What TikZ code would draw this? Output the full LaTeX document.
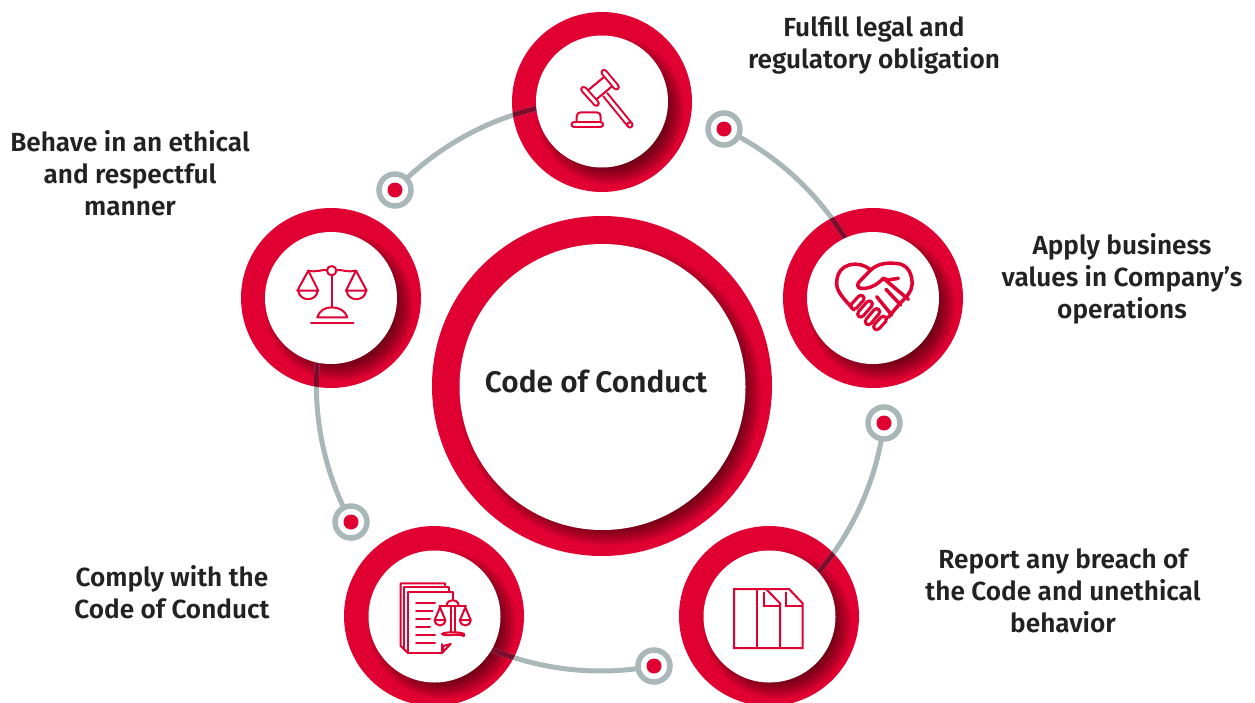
\documentclass[tikz,border=0pt]{standalone}
\usepackage{fontspec}
\setmainfont{Fira Sans}[BoldFont={Fira Sans SemiBold}]
\usetikzlibrary{positioning}
\definecolor{brand}{HTML}{E00032}
\definecolor{brandshade}{HTML}{7E0A2C}
\definecolor{linkgrey}{HTML}{A9B7B8}
\definecolor{inktext}{HTML}{222222}
\pgfdeclarelayer{rings}
\pgfdeclarelayer{links}
\pgfsetlayers{rings,links,main}
\tikzset {
  % red disc behind each white hub
  ring/.style = {circle, fill=brand, inner sep=0pt, outer sep=0pt, minimum size=180pt},
  hub/.style = {circle, fill=white, inner sep=0pt, outer sep=0pt, minimum size=132pt},
  % small targets on the big circle
  pinnode/.style = {circle, draw=linkgrey, line width=5.5pt, fill=white, inner sep=0pt,
    minimum size=32pt, path picture={\fill[brand] (path picture bounding box.center) circle (7.5pt);}},
  link/.style = {draw=linkgrey, line width=5pt},
  linkdark/.style = {draw=brandshade, line width=5pt},
  caption/.style = {align=center, text=inktext, font=\fontsize{26.2}{32}\selectfont\bfseries},
  icon/.style = {draw=brand, line width=2pt, line join=round, line cap=round},
  capsule/.style = {icon, double=white, double distance=3pt},
}
% soft shadow on the ring, lower right of the hub
\newcommand{\ringshade}[4]{%
  \begin{scope}
    \clip (#1,#2) circle (#3);
    \foreach \s in {-11,-10.25,...,9}
      \fill[black, opacity=.024] (#1+8,#2+8) circle (#4+\s);
  \end{scope}}
\begin{document}
\begin{tikzpicture}[x=1pt, y=-1pt]
  \useasboundingbox (0,0) rectangle (1255,702);

  \begin{pgfonlayer}{rings}
    \clip (0,0) rectangle (1255,702);
    \node[ring, minimum size=340pt] (conductring) at (602,386) {};
    \ringshade{602}{386}{170}{143}
    \foreach \n/\x/\y in {law/602/102, trust/873/298, report/769/616, comply/434/616, ethics/331/298} {
      \node[ring] (\n ring) at (\x,\y) {};
      \ringshade{\x}{\y}{90}{66}
    }
  \end{pgfonlayer}

  \node[hub, minimum size=286pt] (conduct) at (602.5,387) {};
  \node[hub] (law) at (602,101.5) {};
  \node[hub] (trust) at (873,298) {};
  \node[hub] (report) at (769.5,616.5) {};
  \node[hub] (comply) at (434.5,616.5) {};
  \node[hub] (ethics) at (331,298) {};

  \node[pinnode] (lawpin) at (724,129) {};
  \node[pinnode] (trustpin) at (884,423) {};
  \node[pinnode] (reportpin) at (654,666) {};
  \node[pinnode] (complypin) at (351,522) {};
  \node[pinnode] (ethicspin) at (395,190) {};

  \begin{pgfonlayer}{links}
    \foreach \p/\h/\a in {lawpin/trust/115, trustpin/report/42, reportpin/comply/-30, complypin/ethics/-102, ethicspin/law/186} {
      \draw[link] (\p.center) to[bend left=16.5, looseness=.87] (\h.\a);
      \begin{scope}
        \clip (\h ring.center) circle (90);
        \draw[linkdark] (\p.center) to[bend left=16.5, looseness=.87] (\h.\a);
      \end{scope}
    }
  \end{pgfonlayer}

  \node[caption, font=\fontsize{29.8}{34}\selectfont\bfseries] (conducttext) at (596,381) {Code of Conduct};
  \node[caption] (lawtext) at (874,45) {Fulfill legal and\\regulatory obligation};
  \node[caption] (trusttext) at (1122,279) {Apply business\\values in Company’s\\operations};
  \node[caption] (reporttext) at (1063,591) {Report any breach of\\the Code and unethical\\behavior};
  \node[caption] (complytext) at (172,592) {Comply with the\\Code of Conduct};
  \node[caption] (ethicstext) at (130,173) {Behave in an ethical\\and respectful\\manner};

  % gavel
  \begin{scope}[shift={(510,0)}, scale=1/3]
    \draw[capsule, line cap=butt] (285,283) -- (360,375);
    \draw[capsule] (360,375) -- (359,374);
    \draw[icon, fill=white] (228,276) -- (288,226) -- (312,254) -- (252,304) -- cycle;
    \draw[capsule] (221,268) -- (259,310);
    \draw[capsule] (282,217) -- (319,261);
    \draw[icon] (200,365) -- (200,350) .. controls (200,342) and (205,337) .. (212,337) -- (260,337)
      .. controls (268,337) and (272,342) .. (272,350) -- (272,365);
    \draw[capsule] (192,374) -- (272,374);
  \end{scope}

  % heart with shaking hands
  \begin{scope}[shift={(780,200)}, scale=1/3, icon/.append style={line width=3.5pt}, capsule/.append style={line width=3.2pt, double distance=3pt}]
    \draw[icon] (272,210) .. controls (240,180) and (170,185) .. (170,250) .. controls (170,275) and (190,295) .. (222,330);
    \draw[icon] (272,210) .. controls (295,190) and (320,188) .. (345,190) .. controls (385,190) and (398,225) .. (396,255)
      .. controls (395,275) and (380,290) .. (360,310) -- (325,352);
    \draw[icon] (272,210) -- (238,245) .. controls (225,262) and (240,268) .. (255,265)
      .. controls (280,262) and (295,250) .. (310,235) -- (325,240) -- (355,235);
    \draw[icon] (310,235) -- (385,298);
    \draw[icon] (318,268) -- (362,315);
    \draw[icon] (290,290) -- (335,345);
    \draw[capsule] (222,318) -- (243,295);
    \draw[capsule] (242,342) -- (268,312);
    \draw[capsule] (265,365) -- (290,335);
    \draw[capsule] (290,380) -- (310,358);
  \end{scope}

  % scales
  \begin{scope}[shift={(240,200)}, scale=1/3]
    \draw[icon] (275,212) circle (14);
    \draw[icon] (261,210) .. controls (245,208) and (230,218) .. (205,212);
    \draw[icon] (289,210) .. controls (305,208) and (320,218) .. (348,212);
    \draw[icon] (172,272) -- (205,212) -- (235,272) -- cycle;
    \draw[icon] (175,272) .. controls (178,306) and (230,306) .. (233,272);
    \draw[icon] (318,272) -- (348,212) -- (380,272) -- cycle;
    \draw[icon] (320,272) .. controls (323,306) and (375,306) .. (378,272);
    \draw[icon] (275,226) -- (275,322);
    \draw[icon] (232,352) .. controls (238,332) and (255,322) .. (275,322) .. controls (297,322) and (316,332) .. (322,352) -- cycle;
    \draw[icon] (213,370) -- (340,370);
  \end{scope}

  % papers with small scales
  \begin{scope}[shift={(340,520)}, scale=1/3]
    \draw[icon] (205,400) -- (182,378) -- (182,190) -- (315,190) -- (315,200);
    \draw[icon] (193,385) -- (193,200) -- (327,200) -- (327,215);
    \draw[icon] (305,372) -- (305,400) -- (205,400) -- (205,215) -- (338,215) -- (338,238);
    \draw[icon] (305,400) -- (332,372) -- (310,378) -- (307,398);
    \foreach \yy/\xx in {248/285, 272/278, 297/270, 321/270, 346/285, 370/285}
      \draw[icon] (228,\yy) -- (\xx,\yy);
    \draw[icon] (320,256) .. controls (322,235) and (354,235) .. (356,256);
    \draw[icon] (298,258) -- (378,258);
    \draw[icon] (332,258) -- (332,335);
    \draw[icon] (345,258) -- (345,335);
    \draw[icon] (284,300) -- (300,262) -- (316,300) -- cycle;
    \draw[icon] (284,300) .. controls (286,322) and (314,322) .. (316,300);
    \draw[icon] (360,300) -- (376,262) -- (392,300) -- cycle;
    \draw[icon] (360,300) .. controls (362,322) and (390,322) .. (392,300);
    \draw[icon] (372,348) -- (372,342) .. controls (365,336) and (315,334) .. (306,342) .. controls (315,350) and (355,340) .. (372,348);
  \end{scope}

  % three sheets
  \begin{scope}[shift={(640,520)}, scale=1/3, icon/.append style={line width=2pt, line cap=butt, line join=miter}]
    \draw[icon] (282,207) -- (282,384) -- (488,384) -- (488,250) -- (447,207) -- cycle;
    \draw[icon] (352,207) -- (352,384);
    \draw[icon] (378,207) -- (420,250) -- (420,384);
    \draw[icon] (372,215) -- (372,258) -- (418,258);
    \draw[icon] (438,215) -- (438,258) -- (486,258);
  \end{scope}
\end{tikzpicture}
\end{document}
